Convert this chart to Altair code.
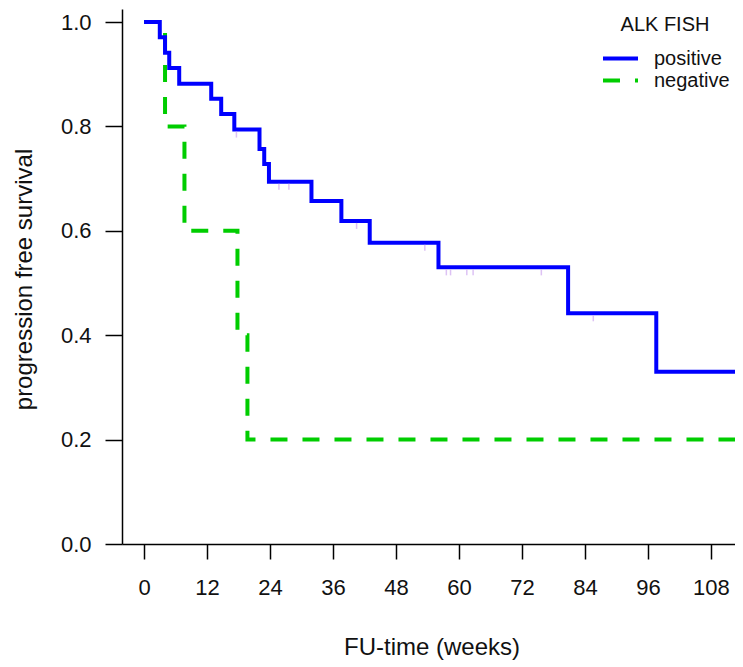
import altair as alt
import pandas as pd

# ---- data ----
groups = ["positive", "negative"]
colors = ["#0000FF", "#00CD00"]

pos_time = [0, 3.0, 4.0, 4.8, 6.7, 12.8, 14.7, 17.2, 22.0, 22.9, 23.8, 31.9, 37.6, 43.0, 56.1, 80.8, 97.6, 114]
pos_surv = [1.0, 0.971, 0.941, 0.912, 0.882, 0.853, 0.824, 0.794, 0.757, 0.728, 0.694, 0.657, 0.619, 0.577, 0.530, 0.442, 0.330, 0.330]

neg_time = [0, 4.0, 7.7, 17.8, 19.7, 114]
neg_surv = [1.0, 0.8, 0.6, 0.4, 0.2, 0.2]

cens_time = [17.6, 25.7, 27.6, 40.5, 53.5, 57.6, 58.4, 61.5, 62.7, 75.7, 85.6]
cens_surv = [0.794, 0.694, 0.694, 0.619, 0.577, 0.530, 0.530, 0.530, 0.530, 0.530, 0.442]

x_ticks = [0, 12, 24, 36, 48, 60, 72, 84, 96, 108]
y_ticks = [0.0, 0.2, 0.4, 0.6, 0.8, 1.0]

FONT = "Liberation Sans"

pos_df = pd.DataFrame({"t": pos_time, "s": pos_surv, "g": "positive"})
neg_df = pd.DataFrame({"t": neg_time, "s": neg_surv, "g": "negative"})
cens_df = pd.DataFrame({"t": cens_time, "s": cens_surv})

x_scale = alt.Scale(domain=[-4.2, 112.6], nice=False, zero=False)
y_scale = alt.Scale(domain=[0, 1.025], nice=False, zero=False)

x_enc = alt.X("t:Q", scale=x_scale,
              axis=alt.Axis(values=x_ticks, title="FU-time (weeks)", labelPadding=18,
                            tickSize=15, titleX=309.5, titleY=103, titleBaseline="middle",
                            titleAlign="center", labelFlush=False))
y_enc = alt.Y("s:Q", scale=y_scale,
              axis=alt.Axis(values=y_ticks, format=".1f", title="progression free survival",
                            tickSize=17, labelPadding=14, titleX=-98, titleY=270,
                            titleBaseline="middle", titleAlign="center", labelFlush=False))

legend = alt.Legend(title="ALK FISH", orient="none", legendX=479, legendY=6,
                    symbolType="stroke", symbolSize=1225, symbolStrokeWidth=4,
                    labelOffset=14, clipHeight=21, rowPadding=1, titleAnchor="middle",
                    titlePadding=13)

color_enc = alt.Color("g:N", scale=alt.Scale(domain=groups, range=colors), legend=legend)
dash_enc = alt.StrokeDash("g:N", scale=alt.Scale(domain=groups, range=[[1, 0], [17, 15]]), legend=legend)

neg_line = alt.Chart(neg_df).mark_line(interpolate="step-after", strokeWidth=4, clip=True, strokeCap="butt").encode(
    x=x_enc, y=y_enc, color=color_enc, strokeDash=dash_enc)
pos_line = alt.Chart(pos_df).mark_line(interpolate="step-after", strokeWidth=4, clip=True, strokeCap="butt").encode(
    x=x_enc, y=y_enc, color=color_enc, strokeDash=dash_enc)
cens = alt.Chart(cens_df).mark_tick(color="#cfa8f0", thickness=1.5, size=6, yOffset=5, orient="vertical").encode(
    x=alt.X("t:Q", scale=x_scale), y=alt.Y("s:Q", scale=y_scale))

chart = alt.layer(neg_line, pos_line, cens).properties(
    width=613, height=535,
    autosize=alt.AutoSizeParams(type="none"),
    padding={"left": 114, "top": 1, "right": 0, "bottom": 118},
).configure_view(stroke=None).configure_axis(
    grid=False, domainColor="#000000", domainWidth=1.5, tickColor="#000000", tickWidth=1.5,
    labelFont=FONT, labelFontSize=22, labelColor="#111111",
    titleFont=FONT, titleFontSize=24, titleFontWeight="normal", titleColor="#111111",
).configure_legend(
    labelFont=FONT, labelFontSize=20, labelColor="#111111",
    titleFont=FONT, titleFontSize=20, titleFontWeight="normal", titleColor="#111111",
)

chart.save("out.html", embed_options={"renderer": "svg", "actions": False})
